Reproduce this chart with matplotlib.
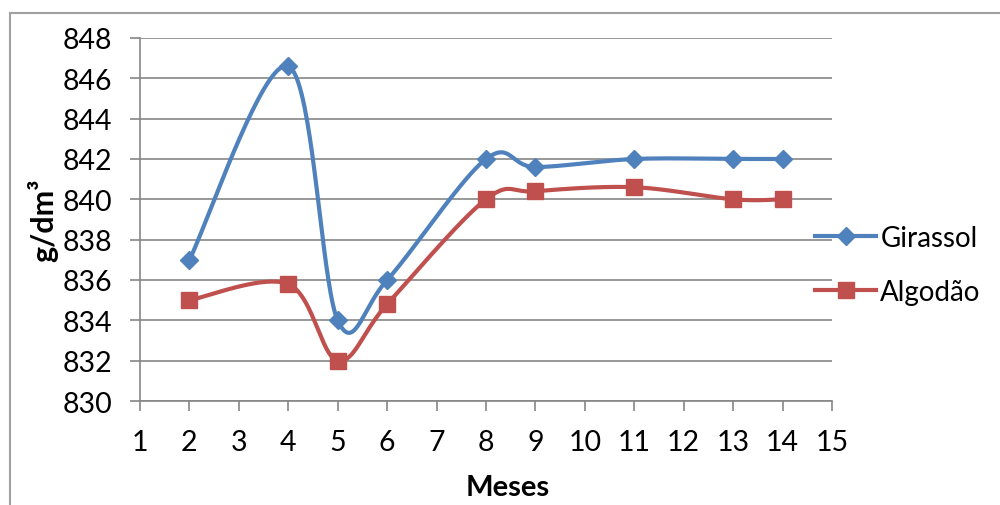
import numpy as np
import matplotlib.pyplot as plt
from matplotlib.lines import Line2D

plt.rcParams['font.family'] = ['Lato', 'DejaVu Sans']

# Data
meses = [2, 4, 5, 6, 8, 9, 11, 13, 14]
girassol = [837, 846.6, 834, 836, 842, 841.6, 842, 842, 842]
algodao = [835, 835.8, 832, 834.8, 840, 840.4, 840.6, 840, 840]

x_ticks = list(range(1, 16))
y_ticks = list(range(830, 849, 2))

blue = '#4F81BD'
red = '#C0504D'
grid_gray = '#868686'


# Excel-like smooth line: parametric Bezier through the points
def smooth(xs, ys, n=40):
    p = np.column_stack([xs, ys]).astype(float)
    ext = np.vstack([p[0], p, p[-1]])
    out = []
    t = np.linspace(0, 1, n)[:, None]
    for i in range(len(p) - 1):
        p0, p1, p2, p3 = ext[i], ext[i + 1], ext[i + 2], ext[i + 3]
        c1 = p1 + (p2 - p0) / 6
        c2 = p2 - (p3 - p1) / 6
        seg = ((1 - t) ** 3) * p1 + 3 * ((1 - t) ** 2) * t * c1 + 3 * (1 - t) * t ** 2 * c2 + t ** 3 * p2
        out.append(seg)
    out = np.vstack(out)
    return out[:, 0], out[:, 1]


fig = plt.figure(figsize=(10, 5.06), dpi=100)
ax = fig.add_axes([0.14, 0.2055, 0.692, 0.7175])

gx, gy = smooth(meses, girassol)
ax.plot(gx, gy, color=blue, lw=3, zorder=3, solid_capstyle='round')
ax.plot(meses, girassol, linestyle='none', marker='D', markersize=9, color=blue, zorder=4)

ax_, ay_ = smooth(meses, algodao)
ax.plot(ax_, ay_, color=red, lw=3, zorder=3, solid_capstyle='round')
ax.plot(meses, algodao, linestyle='none', marker='s', markersize=11, color=red, zorder=4)

ax.set_xlim(1, 15)
ax.set_ylim(830, 848)
ax.set_xticks(x_ticks)
ax.set_yticks(y_ticks)
ax.tick_params(axis='both', labelsize=20.5, colors=grid_gray, labelcolor='black',
               length=7, width=1.2)
ax.tick_params(axis='y', pad=13)
ax.tick_params(axis='x', pad=13)

ax.grid(axis='y', color=grid_gray, lw=1.2)
ax.set_axisbelow(True)
for s in ['top', 'right']:
    ax.spines[s].set_visible(False)
for s in ['left', 'bottom']:
    ax.spines[s].set_color(grid_gray)
    ax.spines[s].set_linewidth(1.2)

ax.set_xlabel('Meses', fontsize=21, fontweight='bold')
ax.xaxis.set_label_coords(0.532, -0.2)
ax.set_ylabel('g/dm³', fontsize=22, fontweight='bold')
ax.yaxis.set_label_coords(-0.118, 0.5)

# legend
handles = [
    Line2D([], [], color=blue, lw=3, marker='D', markersize=9),
    Line2D([], [], color=red, lw=3, marker='s', markersize=11),
]
fig.legend(handles, ['Girassol', 'Algodão'], loc='center left',
           bbox_to_anchor=(0.79, 0.475), frameon=False, fontsize=20,
           handlelength=2.2, handletextpad=0.15, labelspacing=1.0)

# chart area border
fig.add_artist(Line2D([0.01, 1.0], [1 - 14 / 506, 1 - 14 / 506], color='#A0A0A0', lw=1.5))
fig.add_artist(Line2D([0.01, 0.01], [0, 1 - 14 / 506], color='#A0A0A0', lw=1.5))

fig.savefig('out.png', dpi=100)
